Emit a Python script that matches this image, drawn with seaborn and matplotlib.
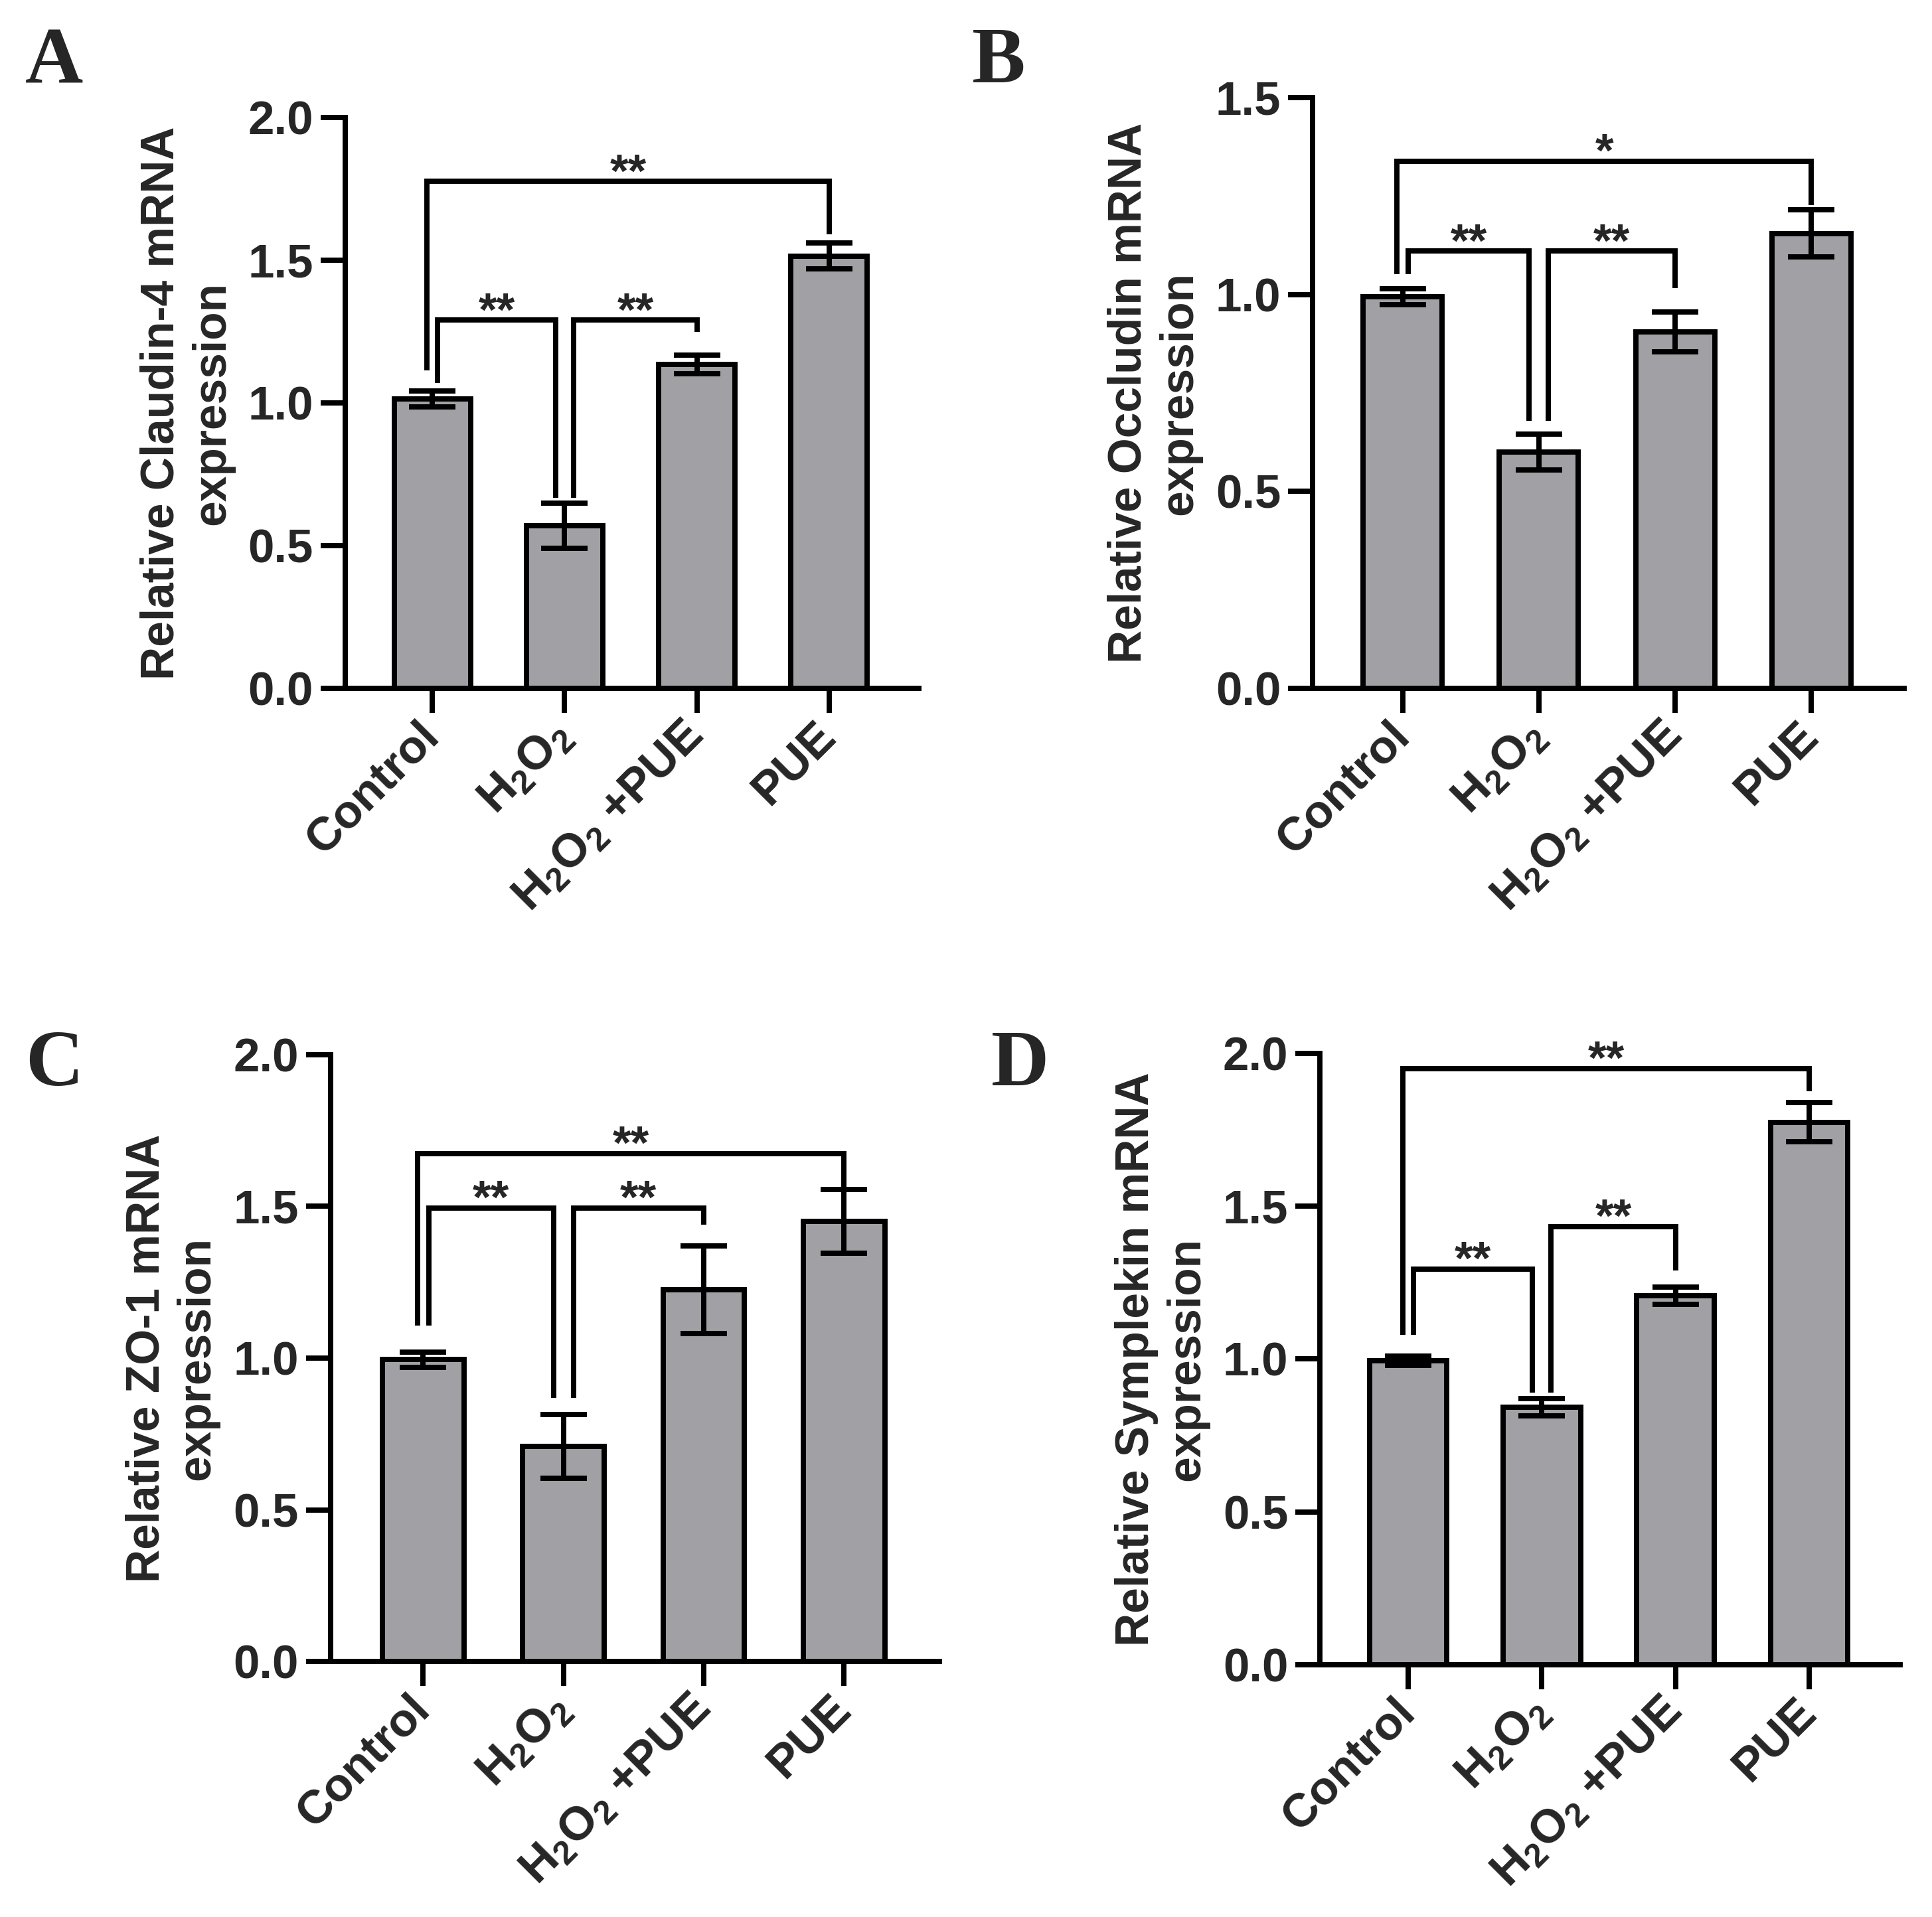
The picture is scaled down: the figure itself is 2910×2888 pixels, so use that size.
import matplotlib
matplotlib.use("Agg")
import matplotlib.pyplot as plt
import seaborn as sns

# Groups and tick labels
groups = ["Control", "H$_2$O$_2$", "H$_2$O$_2$ +PUE", "PUE"]

# Mean relative expression and error
claudin_mean = [1.015, 0.57, 1.135, 1.515]
claudin_err = [0.028, 0.078, 0.033, 0.046]
occludin_mean = [0.995, 0.60, 0.905, 1.155]
occludin_err = [0.02, 0.045, 0.05, 0.06]
zo1_mean = [0.995, 0.71, 1.225, 1.45]
zo1_err = [0.025, 0.105, 0.145, 0.105]
symplekin_mean = [0.995, 0.843, 1.207, 1.775]
symplekin_err = [0.015, 0.028, 0.028, 0.064]

# Significance brackets: (group a, group b, bracket level, leg end a, leg end b, label)
claudin_sig = [(0, 3, 1.776, 1.113, 1.59, "**"),
               (0, 1, 1.29, 1.07, 0.667, "**"),
               (1, 2, 1.29, 0.667, 1.25, "**")]
occludin_sig = [(0, 3, 1.338, 1.051, 1.227, "*"),
                (0, 1, 1.11, 1.051, 0.679, "**"),
                (1, 2, 1.11, 0.679, 1.017, "**")]
zo1_sig = [(0, 3, 1.675, 1.108, 1.559, "**"),
           (0, 1, 1.495, 1.108, 0.868, "**"),
           (1, 2, 1.495, 0.868, 1.439, "**")]
symplekin_sig = [(0, 3, 1.95, 1.08, 1.876, "**"),
                 (0, 1, 1.295, 1.08, 0.89, "**"),
                 (1, 2, 1.434, 0.89, 1.289, "**")]

sns.set_style("ticks")
plt.rcParams["font.family"] = ["Liberation Sans", "DejaVu Sans"]
plt.rcParams["mathtext.fontset"] = "custom"
plt.rcParams["mathtext.rm"] = "Liberation Sans"
plt.rcParams["mathtext.default"] = "regular"

LW = 1.9
BAR_COLOR = "#a1a0a5"
FS = 17

fig = plt.figure(figsize=(9.7, 9.6267), dpi=300)

panels = [
    ("A", [0.1787, 0.6409, 0.2969, 0.2978], claudin_mean, claudin_err, claudin_sig,
     2.0, "Relative Claudin-4 mRNA\nexpression", (0.013, 0.986)),
    ("B", [0.6794, 0.6409, 0.3062, 0.3082], occludin_mean, occludin_err, occludin_sig,
     1.5, "Relative Occludin mRNA\nexpression", (0.503, 0.986)),
    ("C", [0.1711, 0.1333, 0.3152, 0.3165], zo1_mean, zo1_err, zo1_sig,
     2.0, "Relative ZO-1 mRNA\nexpression", (0.013, 0.463)),
    ("D", [0.6832, 0.1316, 0.3003, 0.3189], symplekin_mean, symplekin_err, symplekin_sig,
     2.0, "Relative Symplekin mRNA\nexpression", (0.513, 0.463)),
]


def leg_x(g, other):
    # small offsets so that two brackets sharing a bar do not overlap
    if g == 0:
        return -0.04 if other == 3 else 0.04
    if g == 1:
        return -0.07 if other == 0 else 0.07
    return 0.0


for letter, rect, mean, err, sig, ytop, ylabel, lpos in panels:
    ax = fig.add_axes(rect)
    sns.barplot(x=groups, y=mean, color=BAR_COLOR, saturation=1, width=0.58,
                edgecolor="black", linewidth=LW, ax=ax, errorbar=None)
    ax.errorbar(range(len(groups)), mean, yerr=err, fmt="none", ecolor="black",
                elinewidth=LW, capsize=8.4, capthick=LW, zorder=5)

    for a, b, level, ya, yb, label in sig:
        xa = a + leg_x(a, b)
        xb = b + leg_x(b, a)
        ax.plot([xa, xa, xb, xb], [ya, level, level, yb], color="black", lw=LW,
                solid_joinstyle="miter", solid_capstyle="butt", zorder=6, clip_on=False)
        ax.annotate(label, xy=((xa + xb) / 2, level), xytext=(0, -5.5),
                    textcoords="offset points", ha="center", va="bottom",
                    fontsize=FS, fontweight="bold")

    ax.set_xlim(-0.66, 3.68)
    ax.set_ylim(0, ytop)
    ax.set_yticks([i * 0.5 for i in range(int(ytop / 0.5) + 1)])
    ax.set_yticklabels([f"{i * 0.5:.1f}" for i in range(int(ytop / 0.5) + 1)],
                       fontsize=FS, fontweight="bold")
    ax.set_xticks(range(len(groups)))
    ax.set_xticklabels(groups, rotation=45, ha="right", va="center",
                       rotation_mode="anchor", fontsize=FS, fontweight="bold")
    ax.tick_params(axis="both", length=8.9, width=LW, color="black", pad=2.6)
    ax.tick_params(axis="x", pad=6)
    for side in ["top", "right"]:
        ax.spines[side].set_visible(False)
    for side in ["left", "bottom"]:
        ax.spines[side].set_linewidth(LW)
        ax.spines[side].set_color("black")
    ax.set_xlabel("")
    ax.set_ylabel(ylabel, fontsize=16.7, fontweight="bold", labelpad=5)

    fig.text(lpos[0], lpos[1], letter, fontfamily="Liberation Serif",
             fontweight="bold", fontsize=29, va="top", ha="left")

fig.savefig("out.png", dpi=300)
